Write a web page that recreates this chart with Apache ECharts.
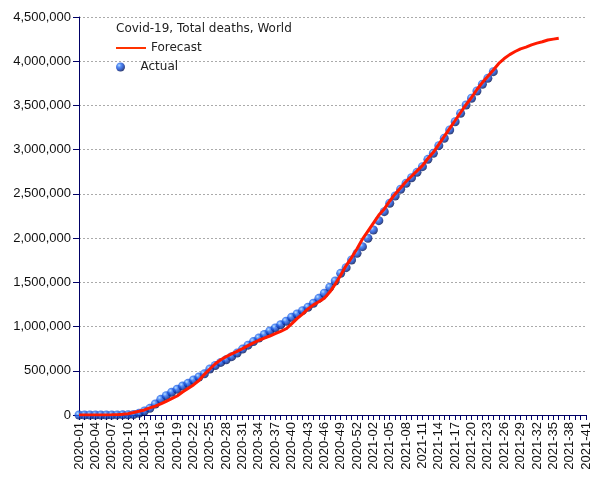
<!DOCTYPE html>
<html>
<head>
<meta charset="utf-8">
<script src="https://cdn.jsdelivr.net/npm/echarts@6/dist/echarts.min.js"></script>
<style>
html,body{margin:0;padding:0;background:#fff;}
#chart{width:605px;height:480px;}
</style>
</head>
<body>
<div id="chart"></div>
<script>
const weeks = [
'2020-01','2020-02','2020-03','2020-04','2020-05','2020-06','2020-07','2020-08','2020-09','2020-10',
'2020-11','2020-12','2020-13','2020-14','2020-15','2020-16','2020-17','2020-18','2020-19','2020-20',
'2020-21','2020-22','2020-23','2020-24','2020-25','2020-26','2020-27','2020-28','2020-29','2020-30',
'2020-31','2020-32','2020-33','2020-34','2020-35','2020-36','2020-37','2020-38','2020-39','2020-40',
'2020-41','2020-42','2020-43','2020-44','2020-45','2020-46','2020-47','2020-48','2020-49','2020-50',
'2020-51','2020-52','2020-53',
'2021-01','2021-02','2021-03','2021-04','2021-05','2021-06','2021-07','2021-08','2021-09','2021-10',
'2021-11','2021-12','2021-13','2021-14','2021-15','2021-16','2021-17','2021-18','2021-19','2021-20',
'2021-21','2021-22','2021-23','2021-24','2021-25','2021-26','2021-27','2021-28','2021-29','2021-30',
'2021-31','2021-32','2021-33','2021-34','2021-35','2021-36','2021-37','2021-38','2021-39','2021-40',
'2021-41'
];

const actual = [
0,0,0,0,100,300,500,1000,2000,3000,
6000,19000,45000,75000,124000,177000,219000,257000,291000,328000,
358000,396000,430000,465000,520000,560000,595000,625000,660000,700000,
745000,790000,830000,870000,910000,950000,985000,1020000,1060000,1105000,
1142000,1180000,1218000,1263000,1319000,1376000,1444000,1515000,1602000,1666000,
1753000,1828000,1903000,1998000,2092000,2197000,2299000,2394000,2476000,2552000,
2620000,2683000,2744000,2808000,2891000,2959000,3045000,3129000,3222000,3316000,
3411000,3505000,3581000,3663000,3739000,3807000,3882000
];

const forecast = [
0,0,0,0,0,1000,2000,4000,8000,15000,
28000,42000,57000,80000,100000,125000,155000,185000,215000,260000,
300000,340000,390000,460000,520000,580000,625000,660000,690000,720000,
750000,785000,815000,845000,870000,893000,920000,945000,975000,1030000,
1090000,1140000,1200000,1245000,1280000,1320000,1390000,1480000,1580000,1690000,
1780000,1880000,1990000,2080000,2170000,2260000,2330000,2420000,2500000,2570000,
2640000,2700000,2760000,2820000,2900000,2970000,3060000,3150000,3240000,3330000,
3420000,3510000,3590000,3680000,3760000,3830000,3901000,3975000,4030000,4075000,
4110000,4140000,4160000,4185000,4205000,4220000,4240000,4250000,4260000
];

const yTicks = [0,500000,1000000,1500000,2000000,2500000,3000000,3500000,4000000,4500000];

const chart = echarts.init(document.getElementById('chart'), null, {renderer:'canvas'});
const axisColor = '#000066';
const sphere = {
  type:'radial', x:0.35, y:0.32, r:0.7,
  colorStops:[
    {offset:0, color:'#a6d6ff'},
    {offset:0.3, color:'#2f74f5'},
    {offset:0.65, color:'#0c40c4'},
    {offset:1, color:'#00104f'}
  ]
};
const redColor = '#ff1a00';

chart.setOption({
  animation:false,
  backgroundColor:'#ffffff',
  title:{
    text:'Covid-19, Total deaths, World',
    left:116, top:23, padding:0,
    textStyle:{fontFamily:'DejaVu Sans', fontSize:12, fontWeight:'normal', color:'#222'}
  },
  legend:[
    {
      data:[{name:'Forecast', icon:'rect'}],
      left:116, top:42, padding:0, itemWidth:30, itemHeight:2,
      selectedMode:false,
      itemStyle:{color:'#ff3300'},
      textStyle:{fontFamily:'DejaVu Sans', fontSize:12, color:'#222'}
    },
    {
      data:[{name:'Actual', icon:'circle'}],
      left:116, top:61, padding:0, itemWidth:30, itemHeight:9,
      selectedMode:false,
      textStyle:{fontFamily:'DejaVu Sans', fontSize:12, color:'#222'}
    }
  ],
  grid:{left:79, right:19, top:17, bottom:65, containLabel:false},
  xAxis:{
    type:'category',
    data:weeks,
    boundaryGap:false,
    axisLine:{lineStyle:{color:axisColor, width:1}},
    axisTick:{show:true, interval:0, length:5, lineStyle:{color:axisColor}},
    axisLabel:{
      interval:2, rotate:90, margin:7,
      fontFamily:'Liberation Sans', fontSize:13, color:'#111'
    },
    splitLine:{show:false}
  },
  yAxis:{
    type:'value',
    min:yTicks[0], max:yTicks[yTicks.length-1], interval:500000,
    axisLine:{show:true, lineStyle:{color:axisColor, width:1}},
    axisTick:{show:true, length:6, lineStyle:{color:axisColor}},
    axisLabel:{
      fontFamily:'Liberation Sans', fontSize:13, color:'#111', margin:8,
      formatter:function(v){return v.toLocaleString('en-US');}
    },
    splitLine:{show:true, lineStyle:{color:'#aaa', type:[2,2], width:1}}
  },
  series:[
    {
      name:'Actual',
      type:'scatter',
      data:actual,
      symbol:'circle',
      symbolSize:9,
      itemStyle:{color:sphere},
      z:2
    },
    {
      name:'Forecast',
      type:'line',
      data:forecast,
      showSymbol:false,
      symbol:'none',
      smooth:false,
      lineStyle:{color:redColor, width:3},
      itemStyle:{color:redColor},
      z:3
    }
  ]
});
</script>
</body>
</html>
